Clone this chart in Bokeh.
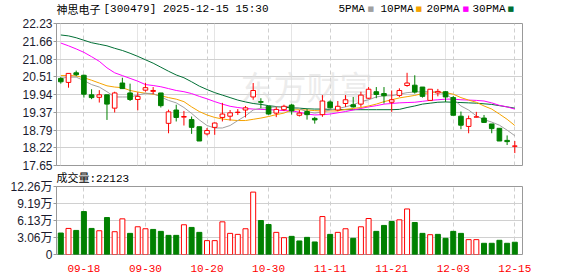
from bokeh.plotting import figure
from bokeh.models import ColumnDataSource, Range1d, FixedTicker, Grid, Label, PrintfTickFormatter, Title
from bokeh.layouts import column
from bokeh.embed import file_html
from bokeh.resources import INLINE

# ---------------- data ----------------
dates = ["09-15", "09-16", "09-17", "09-18", "09-19", "09-22", "09-23", "09-24", "09-25", "09-26",
         "09-29", "09-30", "10-09", "10-10", "10-13", "10-14", "10-15", "10-16", "10-17", "10-20",
         "10-21", "10-22", "10-23", "10-24", "10-27", "10-28", "10-29", "10-30", "10-31", "11-03",
         "11-04", "11-05", "11-06", "11-07", "11-10", "11-11", "11-12", "11-13", "11-14", "11-17",
         "11-18", "11-19", "11-20", "11-21", "11-24", "11-25", "11-26", "11-27", "11-28", "12-01",
         "12-02", "12-03", "12-04", "12-05", "12-08", "12-09", "12-10", "12-11", "12-12", "12-15"]

open_ = [20.46, 20.33, 20.64, 20.56, 19.93, 19.85, 19.93, 19.50, 20.31, 19.99,
         19.78, 20.08, 20.04, 19.99, 19.01, 19.44, 19.21, 19.13, 18.90, 18.67,
         18.88, 19.20, 19.24, 19.36, 19.44, 19.86, 19.71, 19.56, 19.34, 19.45,
         19.60, 19.27, 19.39, 19.17, 19.29, 19.70, 19.44, 19.65, 19.61, 19.63,
         19.82, 20.03, 19.97, 19.69, 19.91, 20.23, 20.24, 20.18, 19.75, 19.99,
         20.03, 19.84, 19.24, 18.91, 19.21, 19.18, 18.99, 18.85, 18.46, 18.27]
close = [20.35, 20.62, 20.58, 19.95, 19.84, 19.93, 19.63, 19.99, 20.13, 19.78,
         19.88, 20.16, 20.07, 19.58, 19.38, 19.20, 19.23, 18.88, 18.44, 18.78,
         19.02, 19.31, 19.35, 19.37, 19.51, 20.07, 19.69, 19.31, 19.46, 19.56,
         19.41, 19.34, 19.29, 19.12, 19.73, 19.51, 19.56, 19.77, 19.54, 19.92,
         20.11, 19.94, 19.90, 19.77, 20.07, 20.31, 20.02, 19.88, 20.11, 20.04,
         19.86, 19.27, 18.95, 19.16, 19.22, 19.04, 18.84, 18.44, 18.42, 18.28]
high = [20.50, 20.62, 20.71, 20.58, 20.11, 20.08, 19.93, 20.03, 20.48, 20.29,
        20.01, 20.32, 20.18, 19.99, 19.45, 19.61, 19.41, 19.23, 18.90, 18.86,
        19.04, 19.67, 19.44, 19.47, 19.57, 20.31, 19.82, 19.56, 19.54, 19.61,
        19.64, 19.44, 19.47, 19.22, 19.92, 19.75, 19.73, 19.92, 19.86, 20.03,
        20.18, 20.18, 20.18, 20.07, 20.14, 20.64, 20.56, 20.18, 20.11, 20.12,
        20.05, 19.89, 19.39, 19.26, 19.38, 19.28, 18.99, 18.85, 18.62, 18.44]
low = [20.29, 20.16, 20.53, 19.84, 19.79, 19.68, 19.12, 19.36, 20.13, 19.73,
       19.43, 20.03, 19.95, 19.52, 18.69, 19.07, 18.94, 18.67, 18.44, 18.62,
       18.64, 19.07, 19.10, 19.28, 19.20, 19.77, 19.50, 19.29, 19.21, 19.41,
       19.29, 19.23, 19.13, 19.00, 19.22, 19.49, 19.40, 19.54, 19.52, 19.54,
       19.79, 19.82, 19.65, 19.38, 19.86, 20.19, 19.97, 19.84, 19.73, 19.88,
       19.70, 19.27, 18.82, 18.69, 19.20, 19.02, 18.69, 18.44, 18.31, 18.05]
close_before = 20.45  # close of the day before the first shown day

# volume in 万 (10,000 shares)
vol_wan = [3.87, 4.70, 4.34, 7.74, 4.70, 4.28, 6.66, 4.11, 6.43, 3.81,
           5.00, 4.64, 4.52, 4.17, 3.45, 3.45, 5.36, 4.88, 3.99, 2.50,
           2.50, 5.89, 3.81, 3.63, 4.64, 11.25, 6.13, 5.41, 3.99, 3.03,
           3.27, 2.44, 3.09, 2.26, 6.84, 3.63, 3.99, 4.64, 2.92, 5.00,
           6.49, 4.17, 5.24, 5.95, 6.25, 8.21, 5.77, 3.81, 3.57, 3.63,
           2.92, 4.17, 3.81, 2.68, 2.68, 2.02, 2.02, 2.56, 2.02, 2.2123]

ma5 = [20.46, 20.50, 20.50, 20.39, 20.26, 20.18, 20.03, 19.86, 19.86, 19.86,
       19.92, 19.98, 19.97, 19.86, 19.75, 19.67, 19.52, 19.33, 19.12, 18.94,
       18.86, 18.86, 18.94, 19.10, 19.25, 19.44, 19.50, 19.52, 19.54, 19.55,
       19.56, 19.48, 19.39, 19.34, 19.38, 19.44, 19.49, 19.54, 19.61, 19.71,
       19.77, 19.86, 19.90, 19.90, 19.95, 20.00, 20.02, 20.03, 20.03, 20.02,
       19.95, 19.79, 19.57, 19.44, 19.25, 19.13, 19.05, 18.95, 18.79, 18.61]
ma10 = [20.55, 20.55, 20.54, 20.48, 20.40, 20.31, 20.22, 20.18, 20.16, 20.07,
        20.02, 19.98, 19.95, 19.90, 19.84, 19.79, 19.71, 19.54, 19.39, 19.28,
        19.20, 19.15, 19.12, 19.10, 19.10, 19.14, 19.18, 19.23, 19.29, 19.34,
        19.44, 19.45, 19.44, 19.42, 19.41, 19.41, 19.41, 19.46, 19.49, 19.52,
        19.57, 19.63, 19.71, 19.77, 19.83, 19.87, 19.91, 19.97, 20.00, 20.02,
        20.00, 19.95, 19.84, 19.76, 19.69, 19.57, 19.47, 19.31, 19.14, 18.94]
ma20 = [21.60, 21.51, 21.41, 21.30, 21.16, 21.01, 20.80, 20.64, 20.55, 20.46,
        20.37, 20.26, 20.23, 20.19, 20.13, 20.07, 20.03, 19.97, 19.88, 19.80,
        19.71, 19.63, 19.56, 19.52, 19.49, 19.47, 19.46, 19.45, 19.44, 19.42,
        19.41, 19.37, 19.31, 19.28, 19.29, 19.31, 19.35, 19.39, 19.44, 19.49,
        19.54, 19.58, 19.63, 19.65, 19.67, 19.68, 19.69, 19.72, 19.75, 19.77,
        19.79, 19.79, 19.77, 19.76, 19.75, 19.73, 19.67, 19.59, 19.54, 19.47]
ma30 = [21.86, 21.83, 21.77, 21.69, 21.61, 21.56, 21.51, 21.43, 21.36, 21.27,
        21.17, 21.06, 20.95, 20.82, 20.69, 20.57, 20.48, 20.35, 20.21, 20.10,
        20.00, 19.92, 19.84, 19.76, 19.70, 19.65, 19.62, 19.58, 19.55, 19.53,
        19.51, 19.50, 19.48, 19.47, 19.47, 19.46, 19.46, 19.45, 19.45, 19.45,
        19.45, 19.45, 19.45, 19.45, 19.46, 19.52, 19.57, 19.63, 19.66, 19.69,
        19.70, 19.69, 19.68, 19.67, 19.66, 19.64, 19.62, 19.58, 19.54, 19.50]

price_ticks = [17.65, 18.22, 18.79, 19.37, 19.94, 20.51, 21.08, 21.66, 22.23]
vol_ticks = [0, 3.06, 6.13, 9.19, 12.26]
vol_tick_labels = ["0", "3.06万", "6.13万", "9.19万", "12.26万"]
date_tick_idx = [3, 11, 19, 27, 35, 43, 51, 59]

title_name = "神思电子"
title_rest = "[300479] 2025-12-15 15:30"
vol_title = "成交量:22123"
ma_names = ["5PMA", "10PMA", "20PMA", "30PMA"]

# ---------------- styling ----------------
RED = "#ff0000"
GREEN = "#008000"
MA_COLORS = ["#a0a0a0", "#f5a300", "#ff00ff", "#006f35"]
GRID = "#d0d0d0"
BORDER = "#999999"
MONO = "Liberation Mono"
CJK = "Noto Sans CJK SC"
NUM = "Liberation Sans"
W = 578

idx = list(range(len(dates)))
up = [c >= o for o, c in zip(open_, close)]
prev_close = [close_before] + close[:-1]
vol_up = [c >= p for c, p in zip(close, prev_close)]

src = ColumnDataSource(dict(
    x=idx, high=high, low=low,
    top=[max(o, c) for o, c in zip(open_, close)],
    bot=[min(o, c) for o, c in zip(open_, close)],
    line=[RED if u else GREEN for u in up],
    fill=["white" if u else GREEN for u in up],
    vol=vol_wan,
    vline=[RED if u else GREEN for u in vol_up],
    vfill=["white" if u else GREEN for u in vol_up],
    ma5=ma5, ma10=ma10, ma20=ma20, ma30=ma30,
))

x_range = Range1d(-0.56, 60.0)

# ---------------- header strip (title + MA legend) ----------------
# (its frame is aligned with the price frame, so x is measured from the frame's left edge)
h1 = figure(width=W, height=16, x_range=Range1d(0, 1), y_range=Range1d(0, 1),
            output_backend="svg", toolbar_location=None,
            x_axis_location=None, y_axis_location=None,
            min_border_left=0, min_border_right=0, min_border_top=0, min_border_bottom=0)
h1.outline_line_color = None
h1.grid.visible = False

def head_label(x, text, font, size, color="black"):
    h1.add_layout(Label(x=x, y=8, x_units="screen", y_units="screen", text=text,
                        text_font=font, text_font_size=size, text_color=color,
                        text_baseline="middle"))

head_label(0, title_name, CJK, "11px")
head_label(47, title_rest, MONO, "11px")
leg_text_x = [282, 324, 370, 416]
leg_box_x = [311, 359, 406, 451]
for nm, col, tx, bx in zip(ma_names, MA_COLORS, leg_text_x, leg_box_x):
    head_label(tx, nm, MONO, "11px")
    head_label(bx, "■", "DejaVu Sans", "7px", col)

# ---------------- price panel ----------------
p1 = figure(width=W, height=156, x_range=x_range, y_range=Range1d(17.65, 22.23),
            output_backend="svg", toolbar_location=None, x_axis_location=None,
            min_border_left=56, min_border_right=56, min_border_top=7, min_border_bottom=7)
p1.outline_line_color = BORDER

ya = p1.yaxis[0]
ya.ticker = FixedTicker(ticks=price_ticks)
ya.formatter = PrintfTickFormatter(format="%.2f")
ya.axis_line_color = BORDER
ya.major_tick_line_color = BORDER
ya.major_tick_out = 3
ya.major_tick_in = 0
ya.minor_tick_line_color = None
ya.major_label_standoff = 1
ya.major_label_text_font = NUM
ya.major_label_text_font_size = "12px"
ya.major_label_text_color = "#1a1a2e"

p1.ygrid.grid_line_color = GRID
p1.ygrid.ticker = FixedTicker(ticks=price_ticks)
p1.add_layout(Grid(dimension=0, ticker=FixedTicker(ticks=date_tick_idx),
                   grid_line_color=GRID, grid_line_dash="4 3"))

wm = Label(x=184, y=80, x_units="screen", y_units="screen", text="东方财富",
           text_font=CJK, text_font_size="33px", text_color="#dcdcdc", text_alpha=0.55,
           text_baseline="middle", level="underlay")
p1.add_layout(wm)

for name, col in zip(["ma30", "ma20", "ma10", "ma5"], MA_COLORS[::-1]):
    p1.line("x", name, source=src, line_color=col, line_width=1)

p1.segment("x", "high", "x", "low", source=src, line_color="line", line_width=1)
p1.vbar(x="x", width=0.6, top="top", bottom="bot", source=src,
        fill_color="fill", line_color="line", line_width=1)

# ---------------- volume panel ----------------
p2 = figure(width=W, height=104, x_range=x_range, y_range=Range1d(0, 12.26),
            output_backend="svg", toolbar_location=None,
            min_border_left=56, min_border_right=56, min_border_top=14, min_border_bottom=22)
p2.outline_line_color = BORDER
p2.add_layout(Title(text=vol_title, align="left", text_font=MONO + ", " + CJK,
                    text_font_size="11px", text_font_style="normal", text_color="black",
                    standoff=0, vertical_align="top"), "above")

ya2 = p2.yaxis[0]
ya2.ticker = FixedTicker(ticks=vol_ticks)
ya2.major_label_overrides = {t: s for t, s in zip(vol_ticks, vol_tick_labels)}
ya2.axis_line_color = BORDER
ya2.major_tick_line_color = BORDER
ya2.major_tick_out = 3
ya2.major_tick_in = 0
ya2.minor_tick_line_color = None
ya2.major_label_standoff = 1
ya2.major_label_text_font = NUM + ", " + CJK
ya2.major_label_text_font_size = "12px"
ya2.major_label_text_color = "#1a1a2e"

xa2 = p2.xaxis[0]
xa2.ticker = FixedTicker(ticks=date_tick_idx)
xa2.major_label_overrides = {i: dates[i] for i in date_tick_idx}
xa2.axis_line_color = None
xa2.major_tick_line_color = None
xa2.minor_tick_line_color = None
xa2.major_label_standoff = 4
xa2.major_label_text_font = MONO
xa2.major_label_text_font_size = "11px"
xa2.major_label_text_color = RED

p2.ygrid.grid_line_color = GRID
p2.ygrid.ticker = FixedTicker(ticks=vol_ticks)
p2.xgrid.grid_line_color = GRID
p2.xgrid.grid_line_dash = "4 3"
p2.xgrid.ticker = FixedTicker(ticks=date_tick_idx)

p2.vbar(x="x", width=0.65, top="vol", bottom=0, source=src,
        fill_color="vfill", line_color="vline", line_width=1)

layout = column(h1, p1, p2)
open("out.html", "w").write(file_html(layout, INLINE))
